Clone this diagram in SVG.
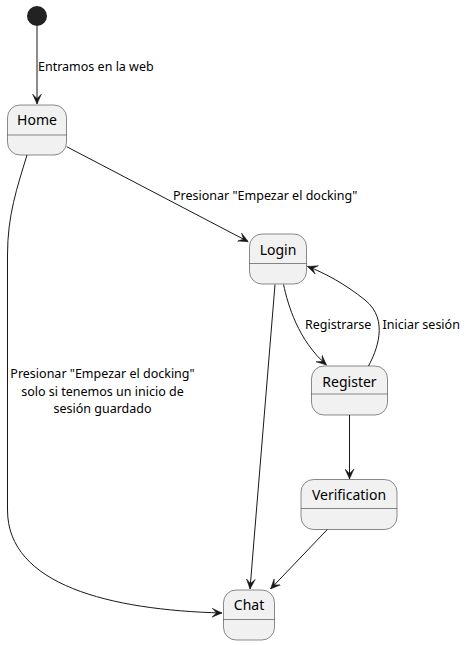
<svg xmlns="http://www.w3.org/2000/svg" width="465" height="645" viewBox="0 0 465 645">
<style>
.node{fill:#F1F1F1;stroke:#181818;stroke-width:0.5}
.div{stroke:#181818;stroke-width:0.5}
.t{font-family:"Noto Sans","DejaVu Sans",sans-serif;font-size:14px;fill:#000;text-anchor:middle}
.l{font-family:"Noto Sans","DejaVu Sans",sans-serif;font-size:12.5px;fill:#000}
.e{fill:none;stroke:#181818;stroke-width:1}
</style>
<defs>
<marker id="ah" viewBox="0 0 10 10" refX="10" refY="5" markerWidth="10" markerHeight="10" markerUnits="userSpaceOnUse" orient="auto">
<path d="M10,5 L0,0.5 L4.5,5 L0,9.5 Z" fill="#181818" stroke="#181818" stroke-width="0.5"/>
</marker>
</defs>
<g id="start"><circle cx="37" cy="16" r="10" fill="#222222"/></g>
<g id="Home"><rect class="node" x="7.5" y="105" width="59" height="50" rx="12.5"/><line class="div" x1="7.5" y1="135" x2="66.5" y2="135"/><text class="t" x="37" y="125">Home</text></g>
<g id="Login"><rect class="node" x="249.5" y="234" width="57" height="50" rx="12.5"/><line class="div" x1="249.5" y1="263.5" x2="306.5" y2="263.5"/><text class="t" x="278" y="255">Login</text></g>
<g id="Register"><rect class="node" x="311.5" y="366" width="76" height="49" rx="12.5"/><line class="div" x1="311.5" y1="394" x2="387.5" y2="394"/><text class="t" x="349.5" y="386.5">Register</text></g>
<g id="Verification"><rect class="node" x="301" y="479.5" width="96" height="50" rx="12.5"/><line class="div" x1="301" y1="508.5" x2="397" y2="508.5"/><text class="t" x="349" y="499.5">Verification</text></g>
<g id="Chat"><rect class="node" x="223.5" y="590" width="51" height="50" rx="12.5"/><line class="div" x1="223.5" y1="619.5" x2="274.5" y2="619.5"/><text class="t" x="249" y="610">Chat</text></g>
<g id="connectors">
<path class="e" marker-end="url(#ah)" d="M37,26 L37,104"/>
<text class="l" x="38" y="71">Entramos en la web</text>
<path class="e" marker-end="url(#ah)" d="M66.7,146.7 L248.3,241.7"/>
<text class="l" x="173" y="200">Presionar "Empezar el docking"</text>
<path class="e" marker-end="url(#ah)" d="M27,155 C17,188 7.5,215 7.5,255 L7.5,510 C7.5,585 110,610 222,613"/>
<text class="l" text-anchor="middle"><tspan x="102.5" y="378">Presionar "Empezar el docking"</tspan><tspan x="102.5" y="395.5">solo si tenemos un inicio de</tspan><tspan x="102.5" y="413">sesión guardado</tspan></text>
<path class="e" marker-end="url(#ah)" d="M275,284.5 L250,589"/>
<path class="e" marker-end="url(#ah)" d="M283.5,284.5 C288,305 298,340 326.5,365"/>
<text class="l" x="305" y="329">Registrarse</text>
<path class="e" marker-end="url(#ah)" d="M368.5,366 C376,352 390,320 365,300 C345,284 325,273 307.5,266.5"/>
<text class="l" x="382.5" y="329">Iniciar sesión</text>
<path class="e" marker-end="url(#ah)" d="M349.5,415 L349.5,479"/>
<path class="e" marker-end="url(#ah)" d="M327.3,529.5 L270.5,589"/>
</g>
</svg>
